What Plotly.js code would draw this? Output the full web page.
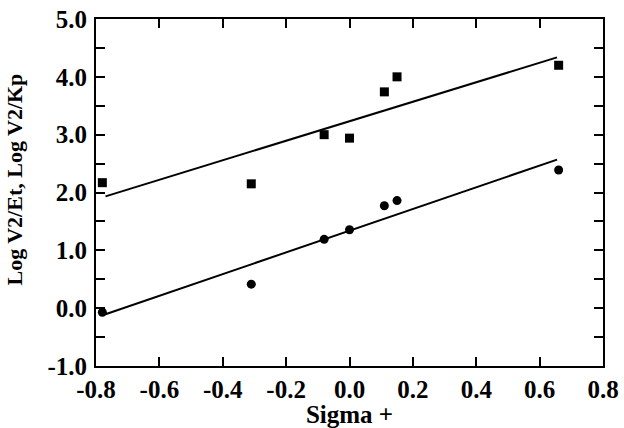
<!DOCTYPE html>
<html>
<head>
<meta charset="utf-8">
<script src="https://cdn.plot.ly/plotly-3.0.1.min.js"></script>
<style>html,body{margin:0;padding:0;background:#fff;}#chart{width:624px;height:428px;}</style>
</head>
<body>
<div id="chart"></div>
<script>
// Sigma+ values (x)
var sigmaPlus = [-0.78, -0.31, -0.08, 0.0, 0.11, 0.15, 0.66];
// Log V2/Kp (squares)
var logV2Kp = [2.17, 2.15, 3.00, 2.94, 3.74, 4.00, 4.20];
// Log V2/Et (circles)
var logV2Et = [-0.07, 0.415, 1.19, 1.355, 1.77, 1.86, 2.39];
// x-extent of drawn fit lines
var fitRange = [-0.77, 0.655];
// tick values and labels
var xTickVals = [-0.8, -0.6, -0.4, -0.2, 0.0, 0.2, 0.4, 0.6, 0.8];
var xTickText = ['-0.8', '-0.6', '-0.4', '-0.2', '0.0', '0.2', '0.4', '0.6', '0.8'];
var yTickVals = [-1, 0, 1, 2, 3, 4, 5];
var yTickText = ['-1.0', '0.0', '1.0', '2.0', '3.0', '4.0', '5.0'];
var yTitle = 'Log V2/Et, Log V2/Kp';

function linfit(x, y) {
  var n = x.length, mx = 0, my = 0;
  for (var i = 0; i < n; i++) { mx += x[i]; my += y[i]; }
  mx /= n; my /= n;
  var sxy = 0, sxx = 0;
  for (var j = 0; j < n; j++) { sxy += (x[j]-mx)*(y[j]-my); sxx += (x[j]-mx)*(x[j]-mx); }
  var b = sxy / sxx, a = my - b*mx;
  return fitRange.map(function(v){ return a + b*v; });
}

var traces = [
  {x: fitRange, y: linfit(sigmaPlus, logV2Kp), mode: 'lines', line: {color: '#000', width: 2}, hoverinfo: 'skip'},
  {x: fitRange, y: linfit(sigmaPlus, logV2Et), mode: 'lines', line: {color: '#000', width: 2}, hoverinfo: 'skip'},
  {x: sigmaPlus, y: logV2Kp, mode: 'markers', marker: {symbol: 'square', size: 9, color: '#000'}},
  {x: sigmaPlus, y: logV2Et, mode: 'markers', marker: {symbol: 'circle', size: 9, color: '#000'}}
];

var font = {family: 'Liberation Serif', size: 25, color: '#000', weight: 'bold'};
var yTitleFont = {family: 'Liberation Serif', size: 22, color: '#000', weight: 'bold'};

var layout = {
  width: 624, height: 428,
  margin: {l: 96, r: 21, t: 19, b: 62},
  showlegend: false,
  paper_bgcolor: '#fff', plot_bgcolor: '#fff',
  font: font,
  xaxis: {
    range: [-0.8, 0.8], tickmode: 'array', tickvals: xTickVals, ticktext: xTickText,
    showgrid: false, zeroline: false,
    showline: true, linecolor: '#000', linewidth: 2, mirror: 'allticks',
    ticks: 'inside', ticklen: 9, tickwidth: 2, tickcolor: '#000',
    tickfont: font,
    title: {text: 'Sigma +', font: font, standoff: 5}
  },
  yaxis: {
    range: [-1, 5], tickmode: 'array', tickvals: yTickVals, ticktext: yTickText,
    showgrid: false, zeroline: false,
    showline: true, linecolor: '#000', linewidth: 2, mirror: 'allticks',
    ticks: 'inside', ticklen: 9, tickwidth: 2, tickcolor: '#000',
    ticklabelstandoff: 2,
    minor: {dtick: 0.5, tick0: -1, ticks: 'inside', ticklen: 9, tickwidth: 2, tickcolor: '#000', showgrid: false},
    tickfont: font
  },
  annotations: [{
    text: yTitle, font: yTitleFont, textangle: -90,
    xref: 'paper', yref: 'paper', x: -0.16, y: 0.537,
    xanchor: 'center', yanchor: 'middle', showarrow: false
  }]
};

Plotly.newPlot('chart', traces, layout, {staticPlot: true, displayModeBar: false});
</script>
</body>
</html>
